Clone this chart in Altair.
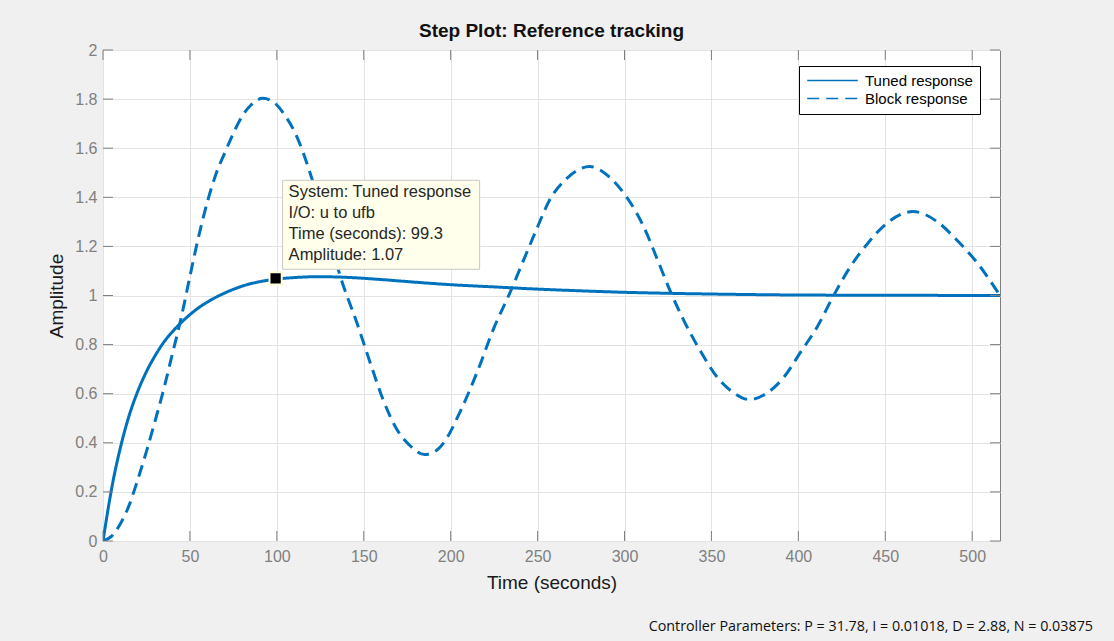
import altair as alt
import pandas as pd

# ---- data ----
tuned_t = [0, 2, 5, 10, 15, 20, 25, 30, 35, 40, 45, 50, 55, 60, 65, 70, 75, 80, 90, 100, 110,
           120, 130, 140, 160, 180, 200, 225, 250, 275, 300, 325, 350, 400, 450, 516]
tuned_y = [0, 0.09, 0.215, 0.38, 0.51, 0.61, 0.69, 0.755, 0.81, 0.853, 0.89, 0.922, 0.95, 0.973,
           0.993, 1.01, 1.025, 1.038, 1.056, 1.067, 1.073, 1.076, 1.076, 1.074, 1.065, 1.054,
           1.044, 1.035, 1.026, 1.019, 1.013, 1.009, 1.006, 1.002, 1.001, 1.0]

block_t = [0, 5, 10, 15, 20, 25, 30, 35, 40, 45, 50, 55, 60, 65, 70, 75, 80, 85, 92, 100, 105,
           110, 115, 120, 125, 130, 136, 146, 154, 161, 169, 177, 185, 192, 196, 205, 215, 225,
           234, 242, 250, 257, 267, 280, 292, 301, 311, 319, 326, 334, 344, 353, 363, 372, 382,
           392, 401, 411, 420, 430, 440, 451, 466, 480, 491, 503, 516]
block_y = [0, 0.02, 0.07, 0.145, 0.25, 0.365, 0.49, 0.62, 0.765, 0.91, 1.078, 1.24, 1.38, 1.495,
           1.58, 1.661, 1.73, 1.775, 1.803, 1.776, 1.73, 1.67, 1.585, 1.48, 1.37, 1.25, 1.09,
           0.89, 0.72, 0.578, 0.455, 0.386, 0.352, 0.37, 0.40, 0.52, 0.684, 0.87, 1.01, 1.145,
           1.28, 1.39, 1.478, 1.525, 1.478, 1.403, 1.281, 1.145, 1.023, 0.90, 0.77, 0.67, 0.603,
           0.576, 0.603, 0.67, 0.766, 0.874, 0.996, 1.118, 1.213, 1.295, 1.342, 1.30, 1.227,
           1.132, 1.0]

series_names = ["Tuned response", "Block response"]
x_ticks = [0, 50, 100, 150, 200, 250, 300, 350, 400, 450, 500]
y_ticks = [0, 0.2, 0.4, 0.6, 0.8, 1.0, 1.2, 1.4, 1.6, 1.8, 2.0]
x_max = 516

tip_t = [99.3]
tip_y = [1.07]
tip_text = ["System: Tuned response\nI/O: u to ufb\nTime (seconds): 99.3\nAmplitude: 1.07"]
caption = "Controller Parameters: P = 31.78, I = 0.01018, D = 2.88, N = 0.03875"

# ---- layout ----
W, H = 897, 491
FONT = "Liberation Sans"
BLUE = "#0072BD"
FRAME = "#7f7f7f"

df = pd.concat([
    pd.DataFrame({"t": tuned_t, "y": tuned_y, "series": series_names[0]}),
    pd.DataFrame({"t": block_t, "y": block_y, "series": series_names[1]}),
])
tip_df = pd.DataFrame({"t": tip_t, "y": tip_y, "txt": tip_text})
xt_df = pd.DataFrame({"v": x_ticks})
yt_df = pd.DataFrame({"v": y_ticks})

xs = alt.Scale(domain=[0, x_max], nice=False, zero=False)
ys = alt.Scale(domain=[0, 2], nice=False)

legend = alt.Legend(
    orient="none", legendX=696, legendY=16, title=None,
    fillColor="white", strokeColor="black", padding=7,
    symbolType="M-4,0H4", symbolSize=160, symbolStrokeWidth=1.5,
    symbolOffset=19, labelOffset=25, labelFontSize=15, labelFont=FONT,
    labelColor="black", rowPadding=2, labelLimit=300, cornerRadius=0,
)

lines = alt.Chart(df).mark_line(strokeWidth=3, interpolate="monotone", clip=True).encode(
    x=alt.X("t:Q", scale=xs,
            axis=alt.Axis(values=x_ticks, title="Time (seconds)", grid=True,
                          gridColor="#e3e3e3", tickSize=0, domain=False,
                          labelPadding=7, titlePadding=9, labelFontSize=16,
                          labelColor="#808080", labelFont=FONT, titleFont=FONT,
                          titleFontSize=19, titleFontWeight="normal", titleColor="#1a1a1a",
                          labelFlush=False)),
    y=alt.Y("y:Q", scale=ys,
            axis=alt.Axis(values=y_ticks, title="Amplitude", format="~g", grid=True,
                          gridColor="#e3e3e3", tickSize=0, domain=False,
                          labelPadding=6, titlePadding=8, labelFontSize=16,
                          labelColor="#808080", labelFont=FONT, titleFont=FONT,
                          titleFontSize=19, titleFontWeight="normal", titleColor="#1a1a1a",
                          labelFlush=False)),
    color=alt.Color("series:N", scale=alt.Scale(domain=series_names, range=[BLUE, BLUE]),
                    legend=legend),
    strokeDash=alt.StrokeDash("series:N",
                              scale=alt.Scale(domain=series_names, range=[[1, 0], [12, 7]]),
                              legend=legend),
    order=alt.Order("t:Q"),
)

# inward ticks (box style)
tick_kw = dict(color=FRAME, strokeWidth=1)
xb = alt.Chart(xt_df).mark_rule(**tick_kw).encode(
    x=alt.X("v:Q", scale=xs), y=alt.value(H), y2=alt.value(H - 10))
xtp = alt.Chart(xt_df).mark_rule(**tick_kw).encode(
    x=alt.X("v:Q", scale=xs), y=alt.value(0), y2=alt.value(10))
yl = alt.Chart(yt_df).mark_rule(**tick_kw).encode(
    y=alt.Y("v:Q", scale=ys), x=alt.value(0), x2=alt.value(10))
yr = alt.Chart(yt_df).mark_rule(**tick_kw).encode(
    y=alt.Y("v:Q", scale=ys), x=alt.value(W), x2=alt.value(W - 10))

# data tip
box = alt.Chart(tip_df).mark_rect(
    fill="#ffffeb", stroke="#c8c8c8", strokeWidth=1,
    xOffset=7, x2Offset=204, yOffset=-98, y2Offset=-9,
).encode(x=alt.X("t:Q", scale=xs), x2="t:Q", y=alt.Y("y:Q", scale=ys), y2="y:Q")
tip_txt = alt.Chart(tip_df).mark_text(
    align="left", baseline="top", dx=13, dy=-94, lineBreak="\n", lineHeight=21,
    font=FONT, fontSize=16.5, color="#262626",
).encode(x=alt.X("t:Q", scale=xs), y=alt.Y("y:Q", scale=ys), text="txt:N")
marker = alt.Chart(tip_df).mark_square(
    size=150, fill="black", stroke="#ffffd8", strokeWidth=2, opacity=1
).encode(x=alt.X("t:Q", scale=xs), y=alt.Y("y:Q", scale=ys))

cap = alt.Chart(pd.DataFrame({"c": [caption]})).mark_text(
    align="right", baseline="middle", font="Open Sans", fontSize=14.3, color="#111111",
).encode(x=alt.value(990), y=alt.value(577), text="c:N")

chart = alt.layer(lines, xb, xtp, yl, yr, box, marker, tip_txt, cap).properties(
    width=W, height=H,
    padding={"left": 103, "top": 50, "right": 114, "bottom": 100},
    autosize=alt.AutoSizeParams(type="none"),
    title=alt.TitleParams("Step Plot: Reference tracking", font=FONT, fontSize=19,
                          fontWeight="bold", color="#111111", anchor="middle", offset=1),
).configure(background="#f0f0f0").configure_view(
    fill="white", stroke=FRAME, strokeWidth=1
)

chart.save("out.html", embed_options={"renderer": "svg", "actions": False})
